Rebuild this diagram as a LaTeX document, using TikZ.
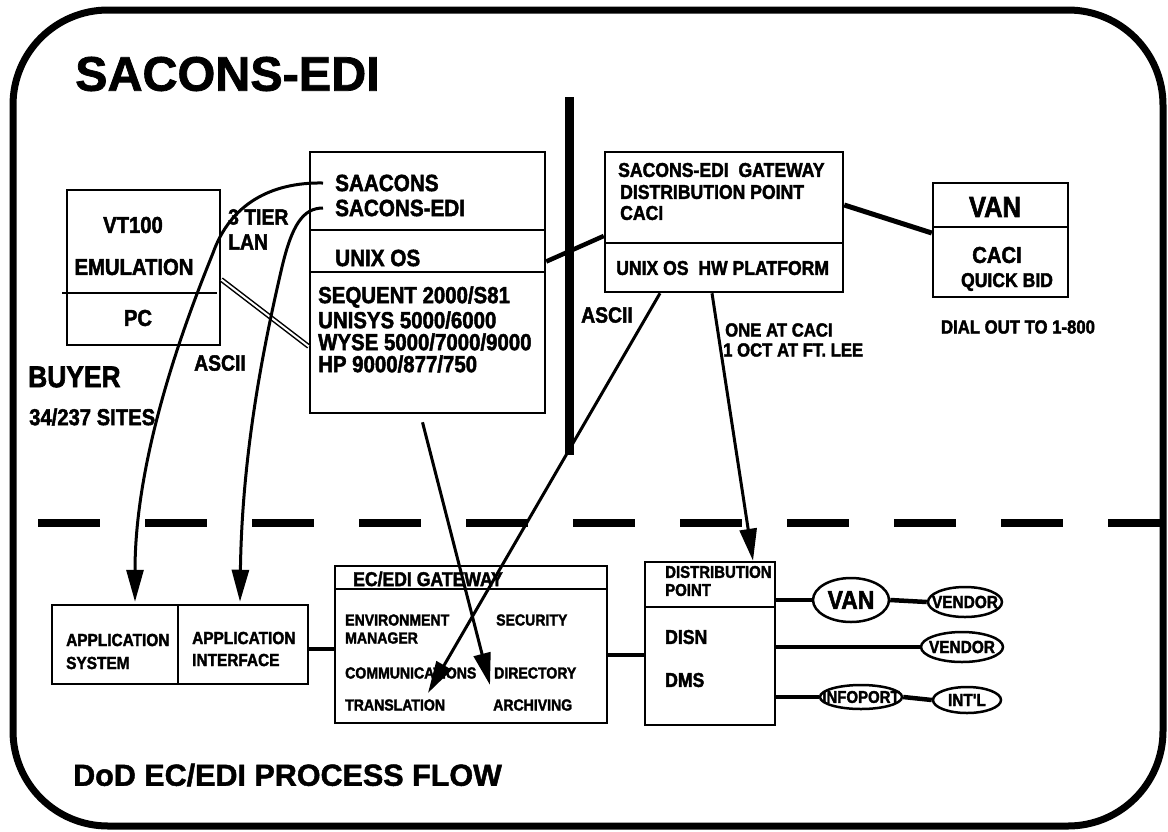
\documentclass[tikz,border=0pt]{standalone}
\usepackage{fontspec}
\setmainfont{Liberation Sans}[BoldFeatures={FakeBold=1.5}]
\newfontfamily\nar{Liberation Sans}[FakeStretch=0.88, BoldFeatures={FakeBold=2}]
\usetikzlibrary{arrows.meta,shapes.geometric}
\newcommand{\fsz}[1]{\fontsize{#1}{#1}\selectfont}
\begin{document}
\begin{tikzpicture}[x=1pt,y=-1pt,
 box/.style={draw, line width=2.5pt, inner sep=0, rectangle},
 lbl/.style={inner sep=0},
 fs/.style={font=\nar\bfseries\fsz{#1}},
 ell/.style={draw, ellipse, line width=2.5pt, inner sep=0},
 arr/.style={line width=3pt, -{Triangle[length=32pt,width=17pt]}},
 link/.style={line width=4.5pt},
 thin link/.style={line width=3.5pt},
]
\useasboundingbox (0,0) rectangle (1168,831);

% frame
\draw[line width=7pt, rounded corners=95pt] (13,10) rectangle (1163,826);

% titles
\node[lbl, anchor=west, font=\bfseries\fsz{48.5}] (title) at (75,74) {SACONS-EDI};
\node[lbl, anchor=west, font=\bfseries\fsz{30.5}] (title2) at (73,775) {DoD EC/EDI PROCESS FLOW};

% separators
\draw[line width=9pt] (569,97) -- (569,455);
\draw[line width=8pt, dash pattern=on 62pt off 45pt] (38,523) -- (1162,523);

% PC box
\node[box, minimum width=153, minimum height=155] (pcbox) at (143.5,267.5) {};
\draw[line width=2.5pt] (62,293) -- (217,293);
\node[lbl, fs=23] (vt) at (133,225) {VT100};
\node[lbl, fs=23] (emu) at (134,267) {EMULATION};
\node[lbl, fs=23] (pc) at (138,318) {PC};
\node[lbl, fs=22, anchor=west] (tier) at (228,217) {3 TIER};
\node[lbl, fs=22, anchor=west] (lan) at (228,242) {LAN};
\node[lbl, fs=22] (ascii1) at (220,363) {ASCII};
\node[lbl, fs=30, anchor=west] (buyer) at (28,377) {BUYER};
\node[lbl, fs=23, anchor=west] (sites) at (29,417) {34/237 SITES};

% middle box
\node[box, minimum width=235, minimum height=261] (midbox) at (427.5,282.5) {};
\draw[line width=2.5pt] (310,230) -- (545,230);
\draw[line width=2.5pt] (310,272) -- (545,272);
\node[lbl, fs=23.5, anchor=west] (saacons) at (335,183) {SAACONS};
\node[lbl, fs=23.5, anchor=west] (saconsedi) at (335,208) {SACONS-EDI};
\node[lbl, fs=23.5, anchor=west] (unixos) at (335,258) {UNIX OS};
\node[lbl, fs=23.2, anchor=west] (seq) at (318,297) {SEQUENT 2000/S81};
\node[lbl, fs=23.2, anchor=west] (unisys) at (318,320) {UNISYS 5000/6000};
\node[lbl, fs=23.2, anchor=west] (wyse) at (318,342) {WYSE 5000/7000/9000};
\node[lbl, fs=23.2, anchor=west] (hp) at (318,364) {HP 9000/877/750};

% gateway box
\node[box, minimum width=238, minimum height=140] (gwbox) at (724,222) {};
\draw[line width=2.5pt] (605,243) -- (843,243);
\node[lbl, fs=20, anchor=west] (gw1) at (618,170) {SACONS-EDI\ \ GATEWAY};
\node[lbl, fs=20, anchor=west] (gw2) at (620,192) {DISTRIBUTION POINT};
\node[lbl, fs=20, anchor=west] (gw3) at (620,213) {CACI};
\node[lbl, fs=20, anchor=west] (gw4) at (616,268) {UNIX OS\ \ HW PLATFORM};
\node[lbl, fs=22] (ascii2) at (607,315) {ASCII};
\node[lbl, fs=19, anchor=west] (one) at (725,330) {ONE AT CACI};
\node[lbl, fs=19, anchor=west] (oct) at (723,350) {1 OCT\ AT FT. LEE};

% VAN box
\node[box, minimum width=135, minimum height=114] (vanbox) at (1000.5,240) {};
\draw[line width=2.5pt] (933,227) -- (1068,227);
\node[lbl, fs=29] (van1) at (995,207) {VAN};
\node[lbl, fs=23] (caci) at (997,255) {CACI};
\node[lbl, fs=20] (quick) at (1007,282) {QUICK BID};
\node[lbl, fs=19] (dial) at (1018,327) {DIAL OUT TO 1-800};

% links upper
\draw[line width=1.5pt, double, double distance=2pt] ([yshift=-12]pcbox.east) -- ([yshift=-64]midbox.west);
\draw[link] ([yshift=21]midbox.east) -- ([yshift=-14]gwbox.west);
\draw[line width=5pt] ([yshift=17]gwbox.east) -- ([yshift=7]vanbox.west);

% bottom boxes
\node[box, minimum width=126, minimum height=79] (appsys) at (115,644.5) {};
\node[box, minimum width=130, minimum height=79] (appint) at (243,644.5) {};
\node[lbl, fs=17.5, anchor=west] (as1) at (66,640) {APPLICATION};
\node[lbl, fs=17.5, anchor=west] (as2) at (66,663) {SYSTEM};
\node[lbl, fs=17.5, anchor=west] (ai1) at (192,638) {APPLICATION};
\node[lbl, fs=17.5, anchor=west] (ai2) at (192,660) {INTERFACE};

\node[box, minimum width=272, minimum height=157] (ecedi) at (471,644.5) {};
\draw[line width=2.5pt] (335,589) -- (607,589);
\node[lbl, fs=20, anchor=west] (ech) at (353,579) {EC/EDI GATEWAY};
\node[lbl, fs=16, anchor=west] (env) at (345,620) {ENVIRONMENT};
\node[lbl, fs=16, anchor=west] (mgr) at (345,638) {MANAGER};
\node[lbl, fs=16, anchor=west] (sec) at (496,620) {SECURITY};
\node[lbl, fs=16, anchor=west] (com) at (345,673) {COMMUNICATIONS};
\node[lbl, fs=16, anchor=west] (dir) at (494,673) {DIRECTORY};
\node[lbl, fs=16, anchor=west] (tra) at (345,705) {TRANSLATION};
\node[lbl, fs=16, anchor=west] (arc) at (493,705) {ARCHIVING};

\node[box, minimum width=130, minimum height=163] (disn) at (710,643.5) {};
\draw[line width=2.5pt] (645,607) -- (775,607);
\node[lbl, fs=17, anchor=west] (dp1) at (665,572) {DISTRIBUTION};
\node[lbl, fs=17, anchor=west] (dp2) at (665,590) {POINT};
\node[lbl, fs=20, anchor=west] (disnt) at (665,637) {DISN};
\node[lbl, fs=20, anchor=west] (dms) at (665,680) {DMS};

% ellipses
\node[ell, minimum width=76, minimum height=44] (van2) at (851,600) {};
\node[lbl, fs=26] at (van2) {VAN};
\node[ell, minimum width=74, minimum height=30] (vendor1) at (965,602) {};
\node[lbl, fs=17.5] at (vendor1) {VENDOR};
\node[ell, minimum width=82, minimum height=30] (vendor2) at (962,647) {};
\node[lbl, fs=17.5] at (vendor2) {VENDOR};
\node[ell, minimum width=82, minimum height=24] (infoport) at (861,697) {};
\node[lbl, fs=17] at (infoport) {INFOPORT};
\node[ell, minimum width=68, minimum height=26] (intl) at (967,700) {};
\node[lbl, fs=17.5] at (intl) {INT'L};

% bottom links
\draw[link] (appint.east |- 0,649) -- (ecedi.west |- 0,649);
\draw[link] (ecedi.east |- 0,655) -- (disn.west |- 0,655);
\draw[link] (disn.east |- van2.west) -- (van2.west);
\draw[link] (van2.east) -- (vendor1.west);
\draw[thin link] (disn.east |- vendor2.west) -- (vendor2.west);
\draw[link] (disn.east |- infoport.west) -- (infoport.west);
\draw[link] (infoport.east) -- (intl.west);

% arrows
\draw[arr] ([xshift=-12]saacons.west) .. controls (270,182) and (230,205) .. (213,253)
  .. controls (190,310) and (135,450) .. ([xshift=20,yshift=2]appsys.north);
\draw[arr] ([xshift=-12]saconsedi.west) .. controls (303,208) and (292,225) .. (282,267)
  .. controls (265,340) and (242,450) .. ([xshift=-3,yshift=2]appint.north);
\coordinate (dirtip) at (490,685);
\coordinate (tratip) at (428,693);
\draw[arr] ([xshift=-5,yshift=-8]midbox.south) -- (dirtip);
\draw[arr] ([xshift=-64]gwbox.south) -- (tratip);
\draw[arr] ([xshift=-12]gwbox.south) -- ([xshift=43]disn.north);
\end{tikzpicture}
\end{document}
